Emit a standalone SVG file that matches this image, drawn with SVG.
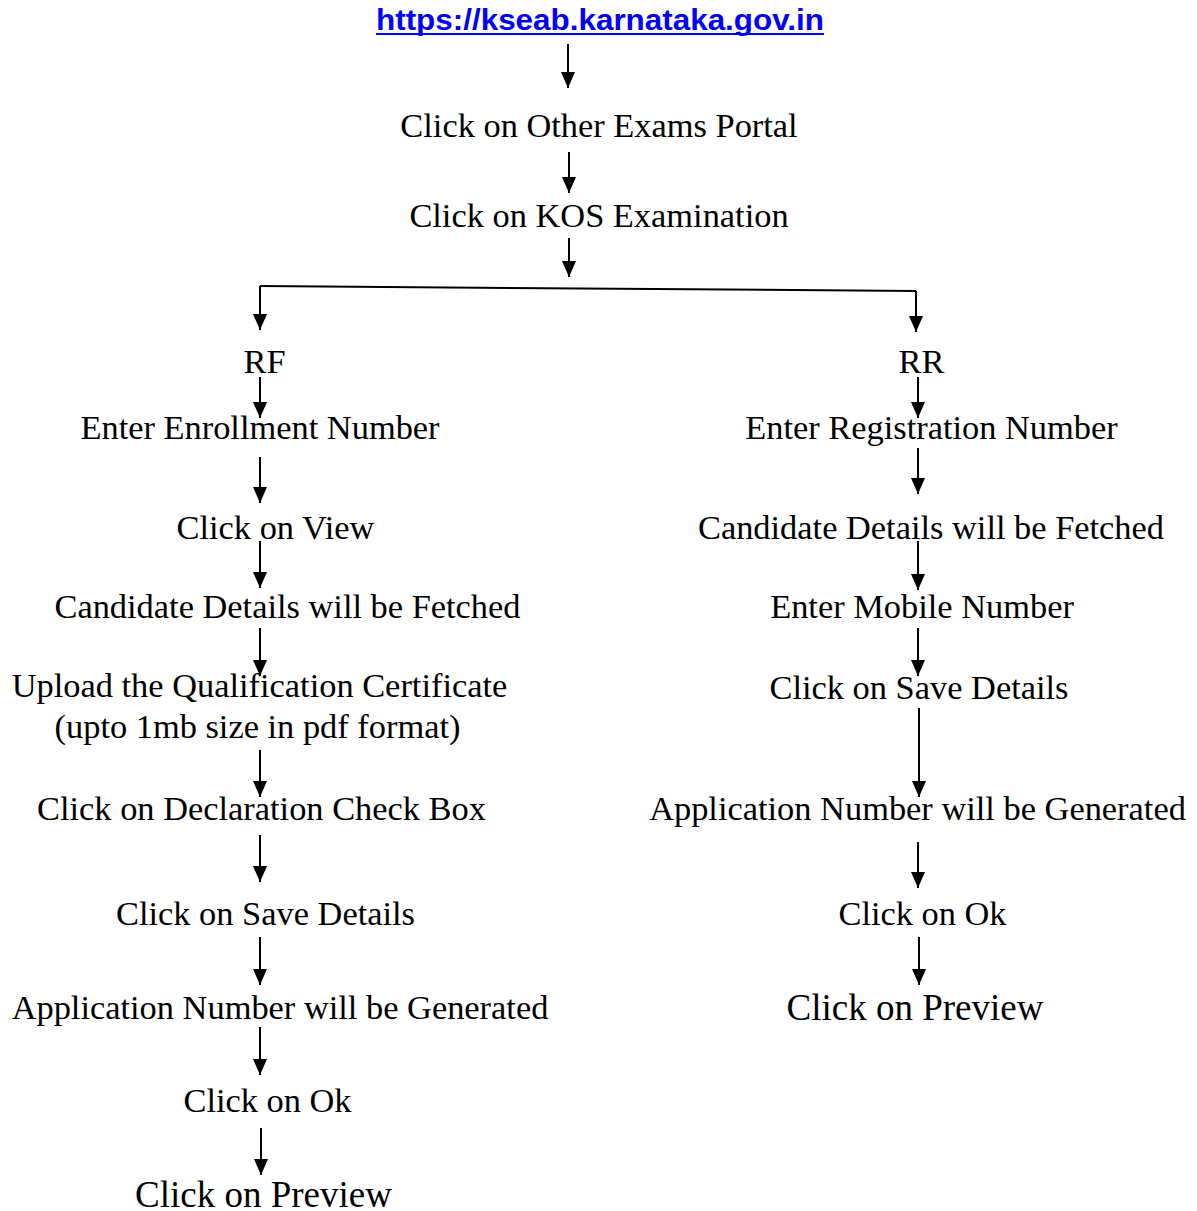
<svg xmlns="http://www.w3.org/2000/svg" width="1197" height="1211" viewBox="0 0 1197 1211">
<style>
.t{font-family:"Liberation Serif","Times New Roman",serif;font-size:34.4px;fill:#000;text-anchor:middle}
.big{font-size:37px}
.url{font-family:"Liberation Sans",Arial,sans-serif;font-weight:bold;font-size:29px;fill:#0000FF;text-anchor:middle}
.c line,.c path{stroke:#000;stroke-width:2;fill:none}
</style>
<defs>
<marker id="ah" markerUnits="userSpaceOnUse" markerWidth="14" markerHeight="16" refX="7" refY="16" orient="auto-start-reverse" viewBox="0 0 14 16">
<path d="M0,0 L14,0 L7,16 Z" fill="#000" transform="rotate(0)"/>
</marker>
<marker id="a" markerUnits="userSpaceOnUse" markerWidth="16" markerHeight="14" refX="16" refY="7" orient="auto" viewBox="0 0 16 14">
<path d="M0,0 L16,7 L0,14 Z" fill="#000"/>
</marker>
</defs>
<rect width="1197" height="1211" fill="#fff"/>
<g id="connectors" class="c">
<line x1="568" y1="44" x2="568" y2="88" marker-end="url(#a)"/>
<line x1="569" y1="152" x2="569" y2="193" marker-end="url(#a)"/>
<line x1="569" y1="238" x2="569" y2="277" marker-end="url(#a)"/>
<path d="M260,286 L916,291"/>
<line x1="260" y1="286" x2="260" y2="330" marker-end="url(#a)"/>
<line x1="916" y1="291" x2="916" y2="332" marker-end="url(#a)"/>
<line x1="260" y1="377" x2="260" y2="418" marker-end="url(#a)"/>
<line x1="918" y1="377" x2="918" y2="418" marker-end="url(#a)"/>
<line x1="260" y1="457" x2="260" y2="503" marker-end="url(#a)"/>
<line x1="918" y1="448" x2="918" y2="494" marker-end="url(#a)"/>
<line x1="260" y1="541" x2="260" y2="588" marker-end="url(#a)"/>
<line x1="918" y1="541" x2="918" y2="590" marker-end="url(#a)"/>
<line x1="260" y1="628" x2="260" y2="676" marker-end="url(#a)"/>
<line x1="918" y1="628" x2="918" y2="676" marker-end="url(#a)"/>
<line x1="260" y1="750" x2="260" y2="797" marker-end="url(#a)"/>
<line x1="919" y1="708" x2="919" y2="797" marker-end="url(#a)"/>
<line x1="260" y1="835" x2="260" y2="882" marker-end="url(#a)"/>
<line x1="918" y1="842" x2="918" y2="888" marker-end="url(#a)"/>
<line x1="260" y1="937" x2="260" y2="985" marker-end="url(#a)"/>
<line x1="919" y1="937" x2="919" y2="985" marker-end="url(#a)"/>
<line x1="260" y1="1027" x2="260" y2="1075" marker-end="url(#a)"/>
<line x1="261" y1="1128" x2="261" y2="1175" marker-end="url(#a)"/>
</g>
<g id="n-url"><text class="url" x="600" y="30" textLength="448" lengthAdjust="spacingAndGlyphs">https://kseab.karnataka.gov.in</text><rect x="376" y="33" width="448" height="2" fill="#0000FF"/></g>
<g id="n-portal"><text class="t" x="599" y="137">Click on Other Exams Portal</text></g>
<g id="n-kos"><text class="t" x="599" y="227">Click on KOS Examination</text></g>
<g id="n-rf"><text class="t" x="264.5" y="373">RF</text></g>
<g id="n-rr"><text class="t" x="921.5" y="373">RR</text></g>
<g id="n-l1"><text class="t" x="260" y="439">Enter Enrollment Number</text></g>
<g id="n-r1"><text class="t" x="931.5" y="439">Enter Registration Number</text></g>
<g id="n-l2"><text class="t" x="275.5" y="539">Click on View</text></g>
<g id="n-r2"><text class="t" x="931" y="539">Candidate Details will be Fetched</text></g>
<g id="n-l3"><text class="t" x="287.5" y="618">Candidate Details will be Fetched</text></g>
<g id="n-r3"><text class="t" x="922" y="618">Enter Mobile Number</text></g>
<g id="n-l4"><text class="t" x="259.5" y="697">Upload the Qualification Certificate</text><text class="t" x="257.5" y="738">(upto 1mb size in pdf format)</text></g>
<g id="n-r4"><text class="t" x="919" y="699">Click on Save Details</text></g>
<g id="n-l5"><text class="t" x="261.5" y="820">Click on Declaration Check Box</text></g>
<g id="n-r5"><text class="t" x="917.5" y="820">Application Number will be Generated</text></g>
<g id="n-l6"><text class="t" x="265.5" y="925">Click on Save Details</text></g>
<g id="n-r6"><text class="t" x="922.5" y="925">Click on Ok</text></g>
<g id="n-l7"><text class="t" x="280" y="1019">Application Number will be Generated</text></g>
<g id="n-r7"><text class="t big" x="915" y="1020">Click on Preview</text></g>
<g id="n-l8"><text class="t" x="267.5" y="1112">Click on Ok</text></g>
<g id="n-l9"><text class="t big" x="263.5" y="1207">Click on Preview</text></g>
</svg>
